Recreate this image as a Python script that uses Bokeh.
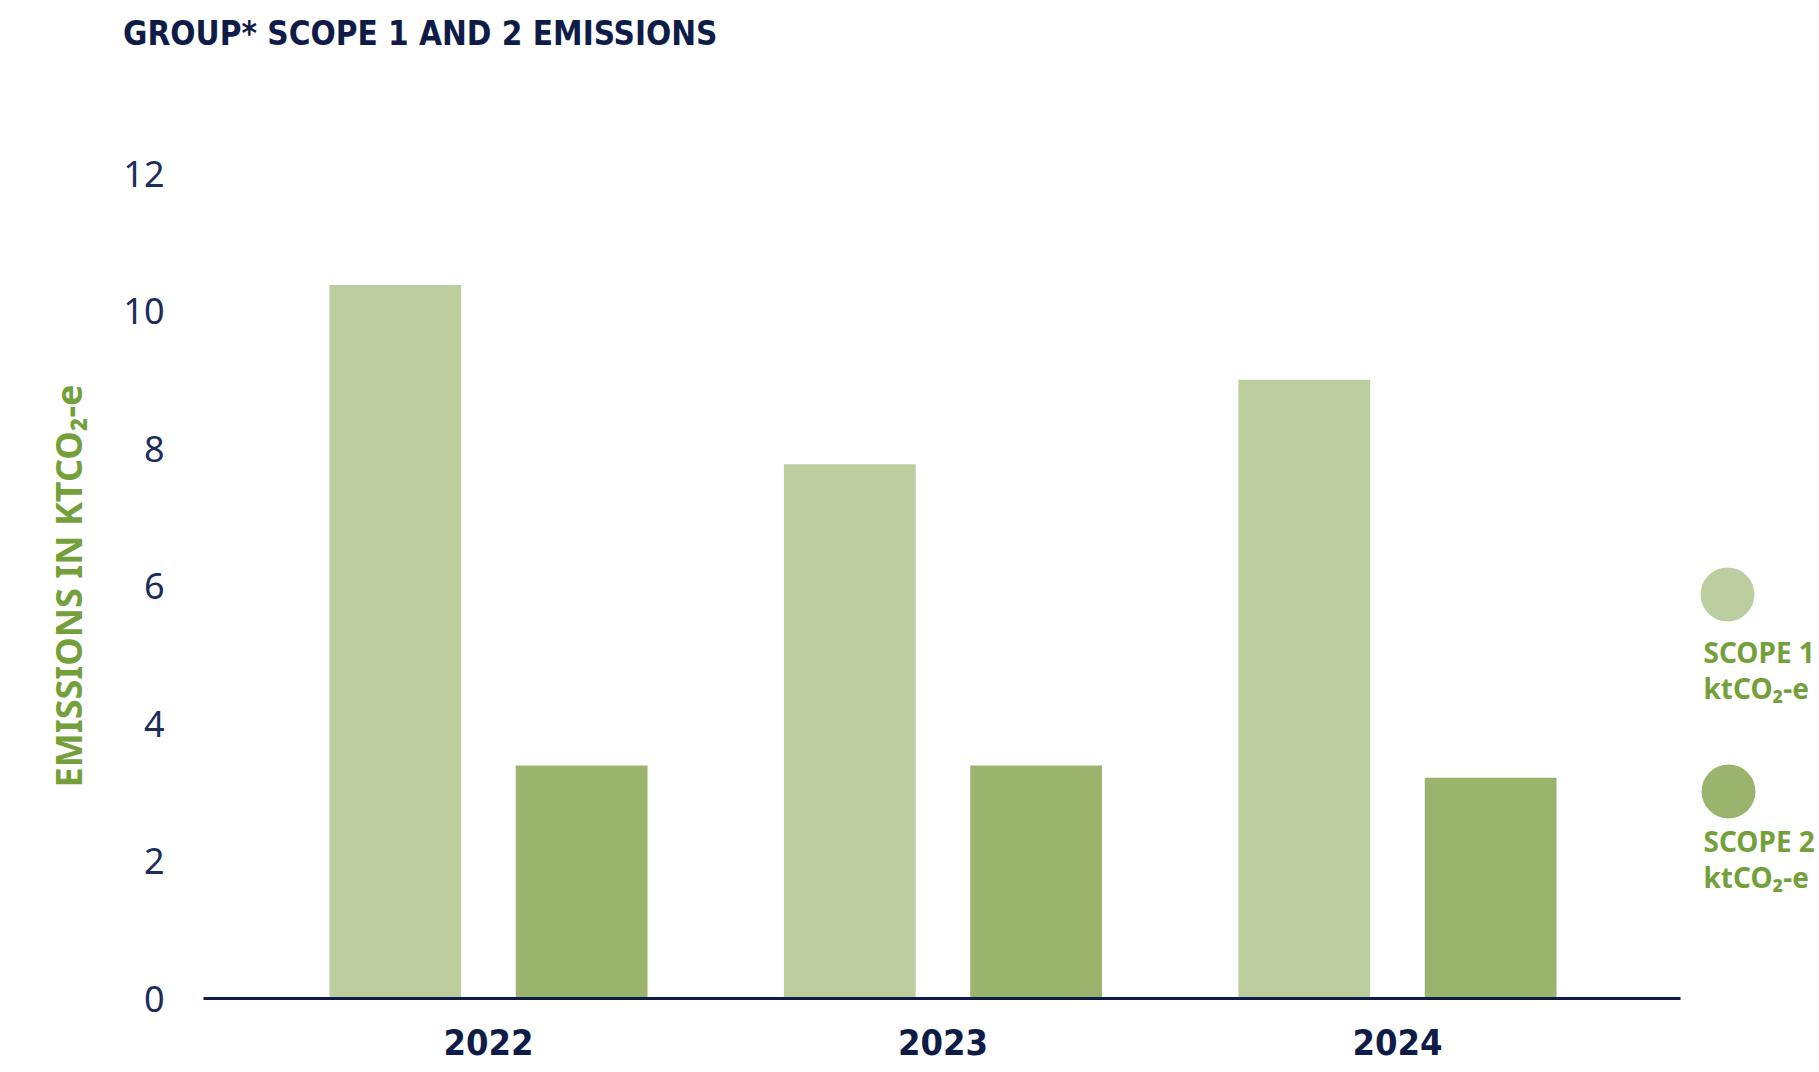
from bokeh.plotting import figure
from bokeh.models import ColumnDataSource, FixedTicker, Range1d, LinearAxis
from bokeh.core.properties import value
from bokeh.transform import dodge
from bokeh.embed import file_html
from bokeh.resources import INLINE

# ---------------- data ----------------
years = ["2022", "2023", "2024"]
scope1 = [10.38, 7.77, 9.0]
scope2 = [3.39, 3.39, 3.21]
series_names = ["SCOPE 1", "SCOPE 2"]
unit_text = "ktCO₂-e"
y_ticks = [0, 2, 4, 6, 8, 10, 12]
title_text = "GROUP* SCOPE 1 AND 2 EMISSIONS"
y_title = "EMISSIONS IN KTCO₂-e"

# ---------------- style / layout ----------------
NAVY = "#0f1c47"
TICK_NAVY = "#1c2d5c"
GREEN_TXT = "#74a03c"
C1 = "#bccd9f"
C2 = "#9bb46d"
COND = "DejaVu Sans Condensed, Roboto"

W, H = 1819, 1070
FRAME_L = 203          # frame left (px)
FRAME_T = 173
FRAME_B = 998          # frame bottom (px from top)
PX_X = 454.5           # px per category step
y_end = 12.0
PX_Y = (FRAME_B - FRAME_T) / y_end
x_start = -0.627
x_end = x_start + (W - FRAME_L) / PX_X
axis_end = x_start + (1680 - FRAME_L) / PX_X
TITLE_ANCHOR = -0.15   # horizontal centre of the title, in x units
TITLE_GAP = 121        # gap between frame top and title text


def px_x(px):
    return x_start + (px - FRAME_L) / PX_X


def px_y(py):
    return (FRAME_B - py) / PX_Y


p = figure(width=W, height=H, x_range=Range1d(x_start, x_end),
           y_range=Range1d(0, y_end), output_backend="svg",
           toolbar_location=None, min_border_left=FRAME_L,
           min_border_right=0, min_border_top=FRAME_T,
           min_border_bottom=H - FRAME_B)
p.outline_line_color = None
p.xgrid.grid_line_color = None
p.ygrid.grid_line_color = None
p.background_fill_color = "white"
p.border_fill_color = "white"

# bottom (category) axis and left axis, taken before any extra axis is added
xa = p.below[0]
ya = p.left[0]

# chart heading, carried by an otherwise invisible top axis
head = LinearAxis(ticker=FixedTicker(ticks=[TITLE_ANCHOR]),
                  major_label_overrides={TITLE_ANCHOR: title_text},
                  axis_line_color=None, major_tick_line_color=None,
                  minor_tick_line_color=None, major_tick_in=0,
                  major_tick_out=0, minor_tick_out=0, minor_tick_in=0,
                  major_label_standoff=TITLE_GAP,
                  major_label_text_font=COND,
                  major_label_text_font_style="bold",
                  major_label_text_font_size="33px",
                  major_label_text_color=NAVY)
p.add_layout(head, "above")

src = ColumnDataSource(dict(x=list(range(len(years))), year=years,
                            s1=scope1, s2=scope2))
p.vbar(x=dodge("x", -0.205, range=p.x_range), top="s1", width=0.29,
       source=src, fill_color=C1, line_color=None)
p.vbar(x=dodge("x", 0.205, range=p.x_range), top="s2", width=0.29,
       source=src, fill_color=C2, line_color=None)

# x axis
xa.ticker = FixedTicker(ticks=list(range(len(years))))
xa.major_label_overrides = {i: y for i, y in enumerate(years)}
xa.bounds = (x_start, axis_end)
xa.axis_line_color = NAVY
xa.axis_line_width = 3
xa.major_tick_line_color = None
xa.minor_tick_line_color = None
xa.major_tick_out = 0
xa.major_tick_in = 0
xa.minor_tick_out = 0
xa.major_label_text_font = COND
xa.major_label_text_font_style = "bold"
xa.major_label_text_font_size = "36px"
xa.major_label_text_color = NAVY
xa.major_label_standoff = 30

# y axis
ya.ticker = FixedTicker(ticks=y_ticks)
ya.axis_line_color = None
ya.major_tick_line_color = None
ya.minor_tick_line_color = None
ya.major_tick_out = 0
ya.minor_tick_out = 0
ya.major_label_text_font = "Noto Sans"
ya.major_label_text_font_size = "36px"
ya.major_label_text_color = TICK_NAVY
ya.major_label_standoff = 39
ya.axis_label = y_title
ya.axis_label_text_font = "Noto Sans"
ya.axis_label_text_font_style = "bold"
ya.axis_label_text_font_size = "36px"
ya.axis_label_text_color = GREEN_TXT
ya.axis_label_standoff = 27

# legend (circle above two-line text)
leg = ColumnDataSource(dict(
    x=[px_x(1727), px_x(1728)],
    y=[px_y(594), px_y(791)],
    color=[C1, C2],
))
p.scatter(x="x", y="y", size=54, marker="circle", fill_color="color",
          line_color=None, source=leg)
leg_txt = ColumnDataSource(dict(
    x=[px_x(1703)] * 4,
    y=[px_y(651), px_y(687), px_y(840), px_y(876)],
    t=[series_names[0], unit_text, series_names[1], unit_text],
))
p.text(x="x", y="y", text="t", source=leg_txt, text_font=value("Noto Sans"),
       text_font_style="bold", text_font_size="28px", text_color=GREEN_TXT,
       text_baseline="alphabetic", text_align="left")

open("out.html", "w").write(file_html(p, INLINE))
